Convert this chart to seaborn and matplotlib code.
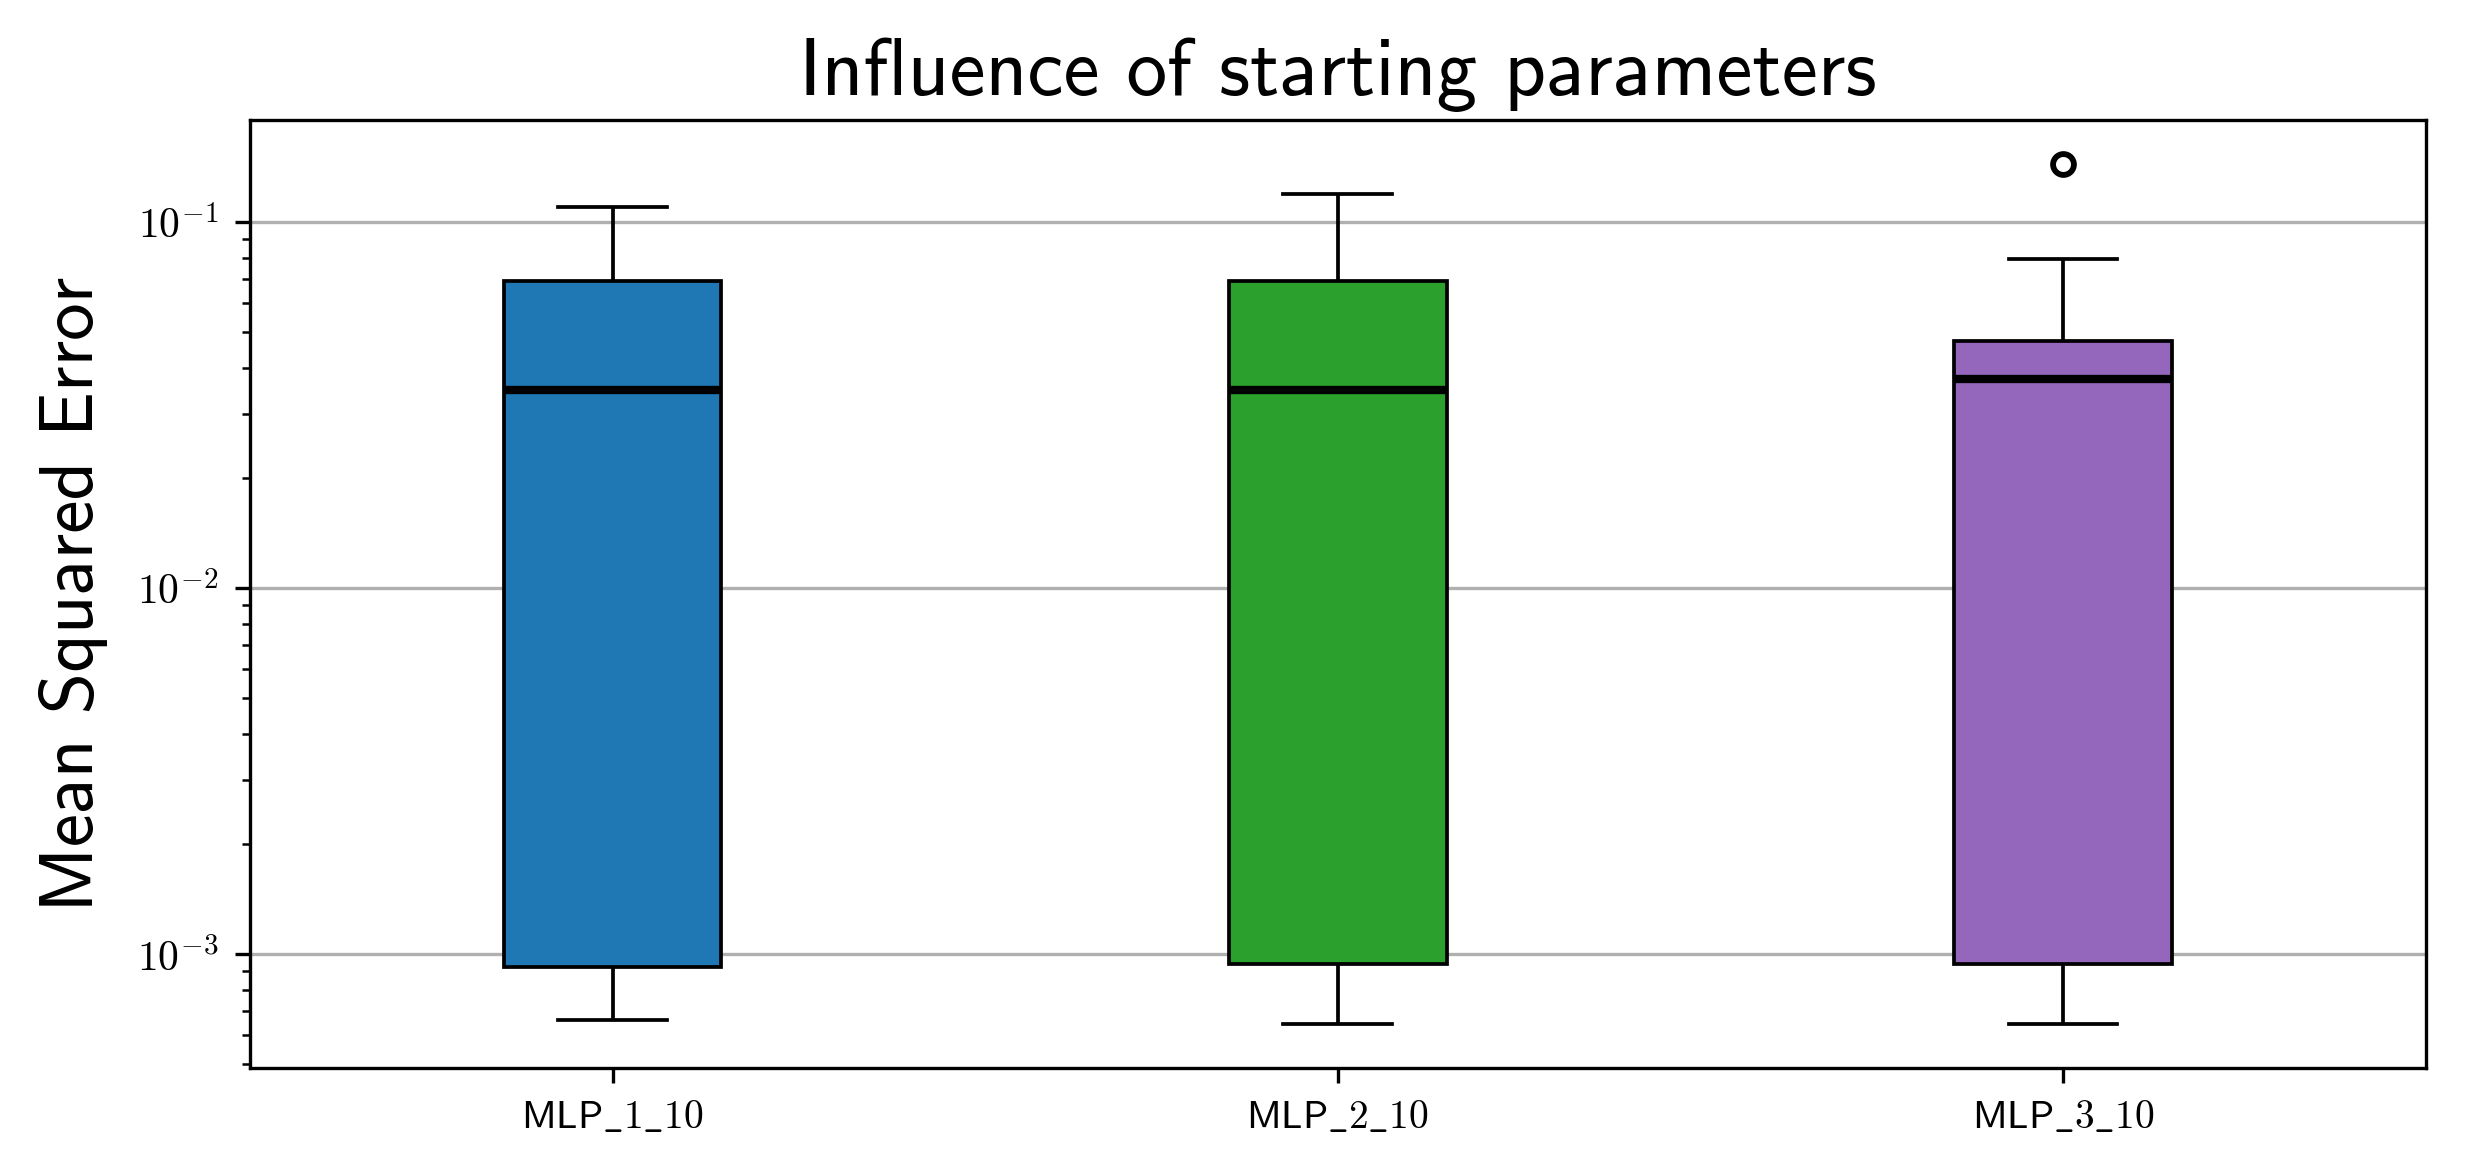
import matplotlib
matplotlib.use("Agg")
import matplotlib.pyplot as plt
import matplotlib.ticker as mticker
import seaborn as sns
import pandas as pd
import math

# Data
categories = ["MLP_1_10", "MLP_2_10", "MLP_3_10"]
mlp_1_10 = [0.000659, 0.000924, 0.0349, 0.0693, 0.110]
mlp_2_10 = [0.000646, 0.000942, 0.0349, 0.0693, 0.1196]
mlp_3_10 = [0.000646, 0.00080, 0.000942, 0.0200, 0.0374, 0.0420, 0.0475, 0.0796, 0.144]
colors = ["#1f77b4", "#2ca02c", "#9467bd"]

rows = []
for cat, vals in zip(categories, [mlp_1_10, mlp_2_10, mlp_3_10]):
    for v in vals:
        rows.append({"model": cat, "mse": v})
df = pd.DataFrame(rows)

plt.rcParams["mathtext.fontset"] = "cm"

fig = plt.figure(figsize=(8.25, 1168 / 300), dpi=300)
ax = fig.add_axes([0.101, 0.086, 0.879, 0.811])

sns.boxplot(
    data=df, x="model", y="mse", hue="model", order=categories,
    hue_order=categories, palette=colors, saturation=1, legend=False,
    width=0.3, linecolor="black", linewidth=0.9, ax=ax,
    medianprops={"linewidth": 2.0, "color": "black"},
    whiskerprops={"linewidth": 0.9, "color": "black"},
    capprops={"linewidth": 0.9, "color": "black"},
    flierprops={"marker": "o", "markerfacecolor": "none",
                "markeredgecolor": "black", "markersize": 5,
                "markeredgewidth": 1.4},
)
ax.set_yscale("log")
ax.set_ylim(0.00049, 0.190)
ax.set_xlim(-0.5, 2.5)

ax.yaxis.set_major_formatter(
    mticker.FuncFormatter(lambda v, p: r"$10^{%d}$" % round(math.log10(v))))
ax.yaxis.set_minor_formatter(mticker.NullFormatter())

ax.set_axisbelow(True)
ax.yaxis.grid(True, which="major", color="#b0b0b0", linewidth=0.8)
ax.xaxis.grid(False)

for s in ax.spines.values():
    s.set_visible(True)
    s.set_color("black")
    s.set_linewidth(0.8)

ax.tick_params(axis="y", which="major", length=3.5, width=0.8, labelsize=10, direction="out", pad=4)
ax.tick_params(axis="y", which="minor", length=2, width=0.6, direction="out")
ax.tick_params(axis="x", length=3.5, width=0.8, direction="out", labelsize=9.5)

ax.set_xlabel("")
ax.set_ylabel("Mean Squared Error", fontsize=18, fontfamily="cmss10", labelpad=7)
ax.set_title("Influence of starting parameters", fontsize=19.5, fontfamily="cmss10", pad=6)
ax.set_xticks(range(len(categories)))
ax.set_xticklabels([r"$\mathsf{%s}$" % c.replace("_", r"\_") for c in categories])

fig.savefig("out.png", dpi=300)
